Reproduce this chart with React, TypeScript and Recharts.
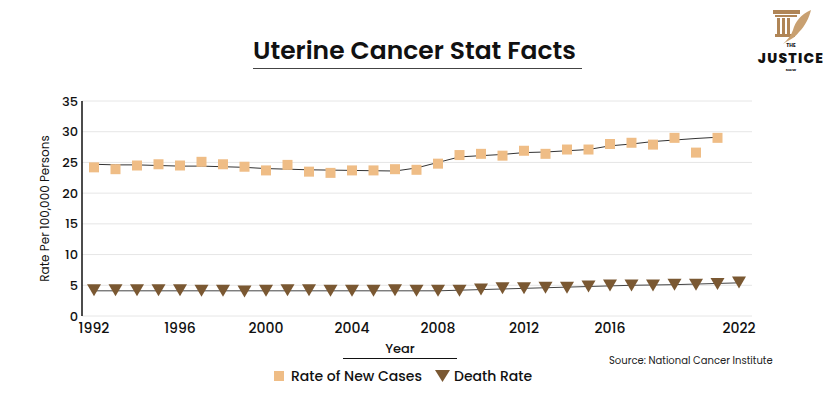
import { CartesianGrid, ComposedChart, Line, Scatter, XAxis, YAxis } from 'recharts';

const FONT = 'Poppins, Inter, "DejaVu Sans", sans-serif';

const years = [
  1992, 1993, 1994, 1995, 1996, 1997, 1998, 1999, 2000, 2001, 2002, 2003, 2004, 2005, 2006, 2007,
  2008, 2009, 2010, 2011, 2012, 2013, 2014, 2015, 2016, 2017, 2018, 2019, 2020, 2021, 2022,
];

// observed rates, 1992-2021
const newCaseRates = [
  24.2, 23.9, 24.5, 24.7, 24.5, 25.1, 24.7, 24.3, 23.7, 24.6, 23.5, 23.3, 23.7, 23.7, 23.9, 23.8,
  24.8, 26.2, 26.4, 26.1, 26.9, 26.4, 27.1, 27.1, 28.0, 28.2, 27.9, 29.0, 26.6, 29.0,
];
// modeled trend, 1992-2021
const newCaseTrend = [
  24.7, 24.6, 24.6, 24.5, 24.4, 24.4, 24.3, 24.2, 24.0, 23.9, 23.8, 23.75, 23.7, 23.65, 23.6, 24.1,
  25.0, 25.9, 26.1, 26.3, 26.6, 26.7, 26.9, 27.1, 27.7, 28.0, 28.4, 28.65, 28.9, 29.1,
];
// 1992-2022
const deathRates = [
  4.2, 4.2, 4.2, 4.2, 4.2, 4.1, 4.1, 4.0, 4.1, 4.2, 4.2, 4.1, 4.1, 4.1, 4.2, 4.1,
  4.1, 4.1, 4.3, 4.5, 4.5, 4.6, 4.6, 4.8, 4.95, 4.95, 4.95, 5.1, 5.1, 5.2, 5.45,
];
const deathTrend = [
  4.1, 4.1, 4.1, 4.1, 4.1, 4.1, 4.1, 4.1, 4.1, 4.1, 4.1, 4.1, 4.1, 4.1, 4.1, 4.1,
  4.1, 4.2, 4.3, 4.4, 4.5, 4.6, 4.7, 4.8, 4.9, 5.0, 5.05, 5.1, 5.2, 5.3, 5.4,
];

const xTicks = [1992, 1996, 2000, 2004, 2008, 2012, 2016, 2022];
const yTicks = [0, 5, 10, 15, 20, 25, 30, 35];

const CASE_COLOR = '#EFBD86';
const DEATH_COLOR = '#7A5832';

const toPoints = (vals: number[]) => vals.map((value, i) => ({ year: years[i], value }));

const SquareDot = (props: any) => {
  const { cx, cy } = props;
  if (cx == null || cy == null) return null;
  return <rect x={cx - 5} y={cy - 5} width={10} height={10} fill={CASE_COLOR} />;
};

const TriangleDot = (props: any) => {
  const { cx, cy } = props;
  if (cx == null || cy == null) return null;
  return <polygon points={`${cx - 7},${cy - 6} ${cx + 7},${cy - 6} ${cx},${cy + 6}`} fill={DEATH_COLOR} />;
};

function ChartLegend() {
  const text = { fontFamily: FONT, fontSize: 14, fontWeight: 500, color: '#111', lineHeight: '16px' };
  return (
    <div style={{ position: 'absolute', left: 274, top: 368, width: 260, height: 16 }}>
      <span style={{ position: 'absolute', left: 0, top: 3, width: 10, height: 10, background: CASE_COLOR }} />
      <span style={{ ...text, position: 'absolute', left: 17, top: 0, whiteSpace: 'nowrap' }}>Rate of New Cases</span>
      <svg style={{ position: 'absolute', left: 161, top: 2 }} width={15} height={12}>
        <polygon points="0,0 15,0 7.5,12" fill={DEATH_COLOR} />
      </svg>
      <span style={{ ...text, position: 'absolute', left: 180, top: 0, whiteSpace: 'nowrap' }}>Death Rate</span>
    </div>
  );
}

function Logo() {
  const base = { position: 'absolute' as const, left: 0, width: 80, textAlign: 'center' as const, fontFamily: FONT, color: '#111', whiteSpace: 'nowrap' as const };
  return (
    <div style={{ position: 'absolute', left: 751, top: 6, width: 80, height: 66 }}>
      <svg width={80} height={40} style={{ position: 'absolute', left: 0, top: 0 }}>
        <rect x={22} y={4} width={27} height={4} fill="#B08556" />
        <rect x={24} y={9} width={22} height={2} fill="#B08556" />
        <rect x={26} y={12} width={3} height={16} fill="#B08556" />
        <rect x={31} y={12} width={3} height={16} fill="#B08556" />
        <rect x={36} y={12} width={3} height={16} fill="#B08556" />
        <rect x={24} y={28} width={20} height={3} fill="#B08556" />
        <path d="M60,4 C50,8 44,16 42,24 C40,30 36,34 32,38 C38,34 44,32 48,26 C54,20 58,12 60,4 Z" fill="#C8A071" />
      </svg>
      <div style={{ ...base, top: 37, fontSize: 5, fontWeight: 700, lineHeight: '5px' }}>THE</div>
      <div style={{ ...base, top: 46, fontSize: 14, fontWeight: 800, lineHeight: '13px', letterSpacing: 1.2 }}>JUSTICE</div>
      <div style={{ ...base, top: 61, fontSize: 4, fontWeight: 700, lineHeight: '5px' }}>NOW</div>
    </div>
  );
}

export default function App() {
  return (
    <div style={{ position: 'absolute', left: 0, top: 0, width: 835, height: 400, background: '#fff', overflow: 'hidden' }}>
      <div
        style={{
          position: 'absolute',
          left: 253,
          top: 33,
          width: 329,
          height: 35,
          borderBottom: '1.5px solid #444',
          fontFamily: FONT,
          fontSize: 25,
          fontWeight: 600,
          color: '#111',
          lineHeight: '35px',
          whiteSpace: 'nowrap',
        }}
      >
        Uterine Cancer Stat Facts
      </div>
      <Logo />
      <ComposedChart width={835} height={400} margin={{ top: 101, right: 83, bottom: 54, left: 0 }}>
        <CartesianGrid vertical={false} stroke="#e6e6e6" />
        <XAxis
          dataKey="year"
          type="number"
          domain={[1992, 2022]}
          ticks={xTicks}
          padding={{ left: 12, right: 13 }}
          axisLine={false}
          tickLine={false}
          tickSize={5}
          height={30}
          tick={{ fill: '#111', fontSize: 14, fontWeight: 500, fontFamily: FONT }}
        />
        <YAxis
          type="number"
          domain={[0, 35]}
          ticks={yTicks}
          width={82}
          axisLine={{ stroke: '#111', strokeWidth: 1.5 }}
          tickLine={false}
          tickSize={2}
          tickMargin={2}
          tick={{ fill: '#111', fontSize: 13, fontWeight: 500, fontFamily: FONT }}
          label={{
            value: 'Rate Per 100,000 Persons',
            angle: -90,
            position: 'center',
            dx: 4,
            style: { fill: '#111', fontSize: 12, fontFamily: FONT, textAnchor: 'middle' },
          }}
        />
        <Line data={toPoints(newCaseTrend)} dataKey="value" stroke="#333" strokeWidth={1} dot={false} activeDot={false} legendType="none" isAnimationActive={false} />
        <Line data={toPoints(deathTrend)} dataKey="value" stroke="#444" strokeWidth={1} dot={false} activeDot={false} legendType="none" isAnimationActive={false} />
        <Scatter name="Rate of New Cases" data={toPoints(newCaseRates)} dataKey="value" shape={SquareDot} isAnimationActive={false} />
        <Scatter name="Death Rate" data={toPoints(deathRates)} dataKey="value" shape={TriangleDot} isAnimationActive={false} />
      </ComposedChart>
      <div style={{ position: 'absolute', left: 343, top: 340, width: 114, textAlign: 'center', fontFamily: FONT, fontSize: 13, fontWeight: 500, color: '#111', lineHeight: '18px', borderBottom: '1.5px solid #111' }}>
        Year
      </div>
      <div style={{ position: 'absolute', left: 609, top: 353, fontFamily: FONT, fontSize: 10, color: '#222', whiteSpace: 'nowrap' }}>
        Source: National Cancer Institute
      </div>
      <ChartLegend />
    </div>
  );
}
